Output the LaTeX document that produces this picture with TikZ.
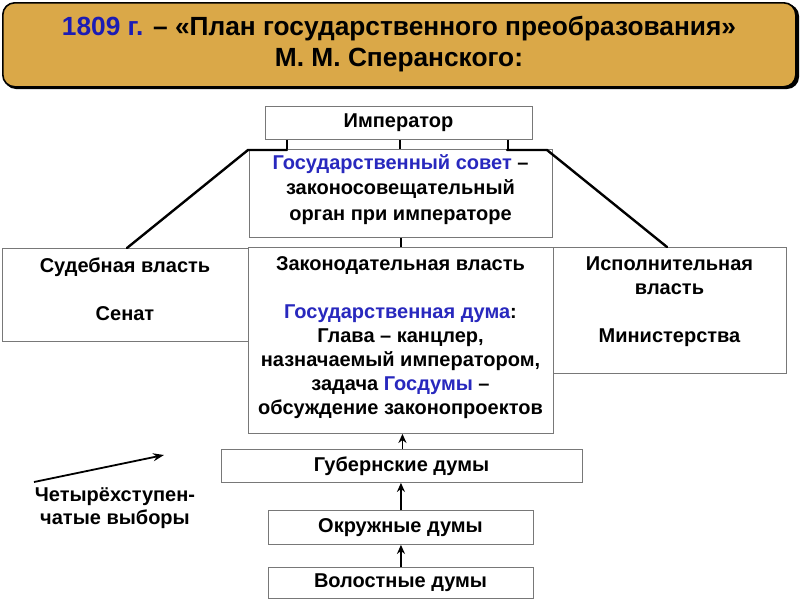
\documentclass[tikz,border=0pt]{standalone}
\usepackage{fontspec}
\setmainfont{Liberation Sans}
\usetikzlibrary{arrows.meta}
\definecolor{gold}{RGB}{218,168,72}
\definecolor{tblue}{RGB}{28,28,180}
\definecolor{bblue}{RGB}{40,40,190}
\definecolor{boxgray}{RGB}{120,120,120}
\tikzset{
  box/.style={draw=boxgray, line width=0.9pt, fill=white, inner sep=0pt, anchor=north west},
  txt/.style={align=center, inner sep=0pt, font=\bfseries\fontsize{20}{24}\selectfont},
  tick/.style={line width=1.2pt},
  thick line/.style={line width=2.4pt, line cap=round, line join=round},
  uparrow/.style={line width=1.8pt, -{Stealth[length=9pt,width=8pt]}},
}
\newcommand{\bl}[1]{\textcolor{bblue}{#1}}
\begin{document}
\begin{tikzpicture}[x=1pt,y=-1pt]
\useasboundingbox (0,0) rectangle (800,600);
% title
\fill[black, rounded corners=12pt] (4,4) rectangle (799,89);
\node[draw=black, line width=1.6pt, fill=gold, rounded corners=12pt, minimum width=793pt, minimum height=84pt, anchor=north west, inner sep=0pt] (title) at (2,2) {};
\node[align=center, inner sep=0pt, font=\bfseries\fontsize{26.3}{31}\selectfont] (titleT) at (399,44)
  {\textcolor{tblue}{1809 г.} – «План государственного преобразования»\\ М. М. Сперанского:};
% boxes
\node[box, minimum width=267pt, minimum height=33pt] (emp) at (265,106) {};
\node[txt] (empT) at (398.5,123) {Император};
\node[box, minimum width=303pt, minimum height=88pt] (gs) at (249,149) {};
\node[txt, font=\bfseries\fontsize{20}{25.5}\selectfont] (gsT) at (400.5,189.5) {\bl{Государственный совет} –\\ законосовещательный\\ орган при императоре};
\node[box, minimum width=246pt, minimum height=93pt] (sud) at (2,248) {};
\node[txt] (sudT) at (125,289) {Судебная власть\\[24pt]Сенат};
\node[box, minimum width=305pt, minimum height=186pt] (zak) at (248,247) {};
\node[txt] (zakT) at (400.5,338) {Законодательная власть\\[24pt]\bl{Государственная дума}:\\ Глава – канцлер,\\ назначаемый императором,\\ задача \bl{Госдумы} –\\ обсуждение законопроектов};
\node[box, minimum width=233pt, minimum height=126pt] (isp) at (553,247) {};
\node[txt] (ispT) at (669.5,301.5) {Исполнительная\\ власть\\[24pt]Министерства};
\node[box, minimum width=361pt, minimum height=33pt] (gub) at (221,449) {};
\node[txt] (gubT) at (401.5,466) {Губернские думы};
\node[box, minimum width=265pt, minimum height=34pt] (okr) at (268,510) {};
\node[txt] (okrT) at (400.5,527.5) {Окружные думы};
\node[box, minimum width=265pt, minimum height=31pt] (vol) at (268,567) {};
\node[txt] (volT) at (400.5,583) {Волостные думы};
\node[txt, font=\bfseries\fontsize{20}{23}\selectfont] (elT) at (115,508) {Четырёхступен-\\чатые выборы};
% ticks emperor -> council
\draw[tick] ([xshift=22pt]emp.south west) -- ([xshift=22pt]emp.south west |- gs.north);
\draw[tick] ([xshift=1pt]emp.south) -- ([xshift=1pt]emp.south |- gs.north);
\draw[tick] ([xshift=-25pt]emp.south east) -- ([xshift=-25pt]emp.south east |- gs.north);
% thick lines to branches
\coordinate (lA) at (287,150);
\coordinate (lB) at (248,150);
\coordinate (lC) at (127,248);
\coordinate (rA) at (507,150);
\coordinate (rB) at (547,150);
\coordinate (rC) at (667,247);
\draw[thick line] (lA) -- (lB) -- (lC);
\draw[thick line] (rA) -- (rB) -- (rC);
% council -> legislative
\draw[tick] (gs.south) -- (gs.south |- zak.north);
% arrows
\draw[uparrow] ([xshift=0.5pt]gub.north) -- ([xshift=0.5pt]gub.north |- zak.south);
\draw[uparrow] (okr.north) -- (okr.north |- gub.south);
\draw[uparrow] (vol.north) -- (vol.north |- okr.south);
\coordinate (eA) at (34,482);
\coordinate (eB) at (164,455);
\draw[line width=1.8pt, -{Stealth[length=11pt,width=8pt]}] (eA) -- (eB);
\end{tikzpicture}
\end{document}
